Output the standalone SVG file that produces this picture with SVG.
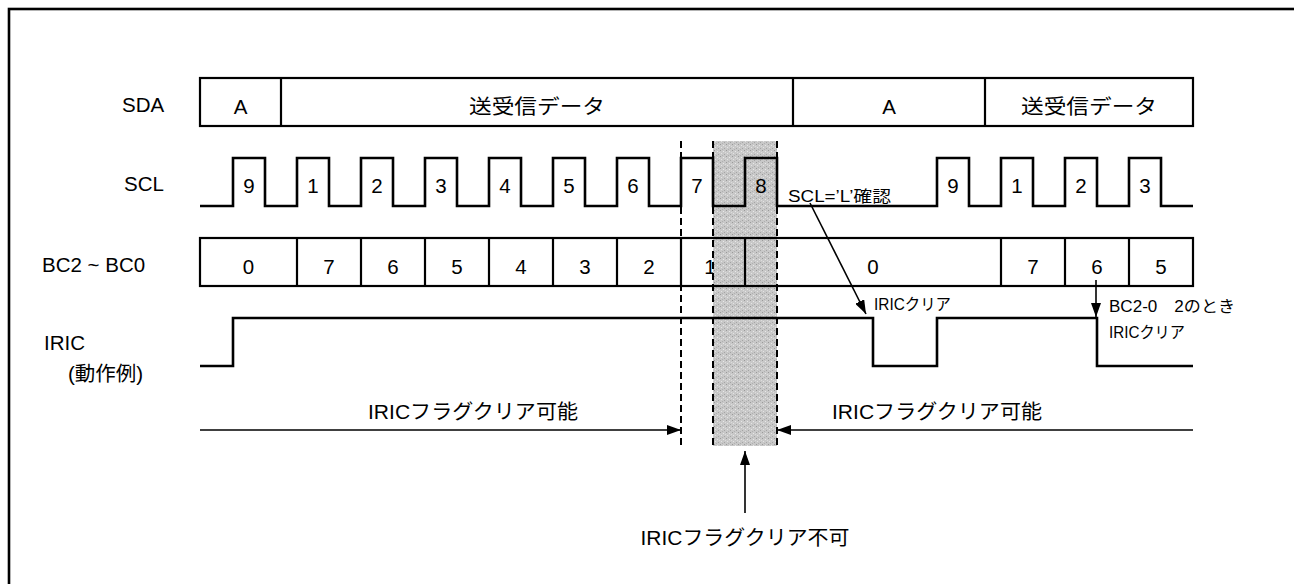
<svg xmlns="http://www.w3.org/2000/svg" width="1294" height="584" viewBox="0 0 1294 584">
<style>
text{font-family:"Liberation Sans","Noto Sans CJK JP",sans-serif;fill:#000}
.t{font-size:20.5px}
.c{text-anchor:middle}
.s{font-size:16px}
.box{fill:none;stroke:#000;stroke-width:2.2}
.wave{fill:none;stroke:#000;stroke-width:2.6}
.dash{fill:none;stroke:#000;stroke-width:2;stroke-dasharray:7 4}
.conn{fill:none;stroke:#000;stroke-width:1.6}
</style>
<defs>
<pattern id="noise" width="6" height="6" patternUnits="userSpaceOnUse">
<rect width="6" height="6" fill="#c8c8c8"/>
<rect x="0" y="0" width="1" height="1" fill="#9a9a9a"/>
<rect x="3" y="1" width="1" height="1" fill="#e8e8e8"/>
<rect x="1" y="3" width="1" height="1" fill="#e4e4e4"/>
<rect x="4" y="4" width="1" height="1" fill="#a4a4a4"/>
<rect x="2" y="5" width="1" height="1" fill="#b0b0b0"/>
<rect x="5" y="2" width="1" height="1" fill="#dcdcdc"/>
</pattern>
<marker id="ah" viewBox="0 0 14 10" refX="14" refY="5" markerWidth="14" markerHeight="10" markerUnits="userSpaceOnUse" orient="auto">
<path d="M0,0 L14,5 L0,10 Z" fill="#000"/>
</marker>
</defs>
<rect width="1294" height="584" fill="#fff"/>
<rect x="9" y="9" width="1300" height="600" fill="none" stroke="#000" stroke-width="2.6"/>

<g id="labels">
<text class="t" x="122" y="112">SDA</text>
<text class="t" x="124" y="191">SCL</text>
<text class="t" x="42" y="272">BC2 ~ BC0</text>
<text class="t" x="44" y="350">IRIC</text>
<text class="t" x="68" y="381">(動作例)</text>
</g>

<g id="bc-hidden-label">
<text class="t c" x="710" y="274">1</text>
</g>

<g id="blocked-zone">
<rect x="713" y="141" width="64" height="305" fill="url(#noise)"/>
</g>

<g id="sda">
<rect class="box" x="200" y="78" width="993" height="48"/>
<path class="box" d="M281,78 V126 M793,78 V126 M985,78 V126"/>
<text class="t c" x="240.5" y="114">A</text>
<text class="t c" x="537" y="114" textLength="136" lengthAdjust="spacingAndGlyphs">送受信データ</text>
<text class="t c" x="889" y="114">A</text>
<text class="t c" x="1089" y="114" textLength="136" lengthAdjust="spacingAndGlyphs">送受信データ</text>
</g>

<g id="scl">
<path class="wave" d="M200,206 H233 V158 H265 V206 H297 V158 H329 V206 H361 V158 H393 V206 H425 V158 H457 V206 H489 V158 H521 V206 H553 V158 H585 V206 H617 V158 H649 V206 H681 V158 H713 V206 H745 V158 H777 V206 H937 V158 H969 V206 H1001 V158 H1033 V206 H1065 V158 H1097 V206 H1129 V158 H1161 V206 H1193"/>
<text class="t c" x="249" y="193">9</text>
<text class="t c" x="313" y="193">1</text>
<text class="t c" x="377" y="193">2</text>
<text class="t c" x="441" y="193">3</text>
<text class="t c" x="505" y="193">4</text>
<text class="t c" x="569" y="193">5</text>
<text class="t c" x="633" y="193">6</text>
<text class="t c" x="697" y="193">7</text>
<text class="t c" x="761" y="193">8</text>
<text class="t c" x="953" y="193">9</text>
<text class="t c" x="1017" y="193">1</text>
<text class="t c" x="1081" y="193">2</text>
<text class="t c" x="1145" y="193">3</text>
</g>

<g id="bc">
<rect class="box" x="200" y="238" width="993" height="48"/>
<path class="box" d="M297,238 V286 M361,238 V286 M425,238 V286 M489,238 V286 M553,238 V286 M617,238 V286 M681,238 V286 M745,238 V286 M1001,238 V286 M1065,238 V286 M1129,238 V286"/>
<text class="t c" x="248.5" y="274">0</text>
<text class="t c" x="329" y="274">7</text>
<text class="t c" x="393" y="274">6</text>
<text class="t c" x="457" y="274">5</text>
<text class="t c" x="521" y="274">4</text>
<text class="t c" x="585" y="274">3</text>
<text class="t c" x="649" y="274">2</text>
<text class="t c" x="873" y="274">0</text>
<text class="t c" x="1033" y="274">7</text>
<text class="t c" x="1097" y="274">6</text>
<text class="t c" x="1161" y="274">5</text>
</g>

<g id="iric">
<path class="wave" d="M200,366 H233 V318 H873 V366 H937 V318 H1097 V366 H1193"/>
</g>

<g id="dashed-bounds">
<path class="dash" d="M681,141 V446 M713,141 V446 M777,141 V446"/>
</g>

<g id="annotations">
<text class="s" x="788" y="202" textLength="103" lengthAdjust="spacingAndGlyphs">SCL=’L’確認</text>
<text class="s" x="874" y="310" textLength="77" lengthAdjust="spacingAndGlyphs">IRICクリア</text>
<text class="s" x="1109" y="312" textLength="126" lengthAdjust="spacingAndGlyphs">BC2-0　2のとき</text>
<text class="s" x="1109" y="338" textLength="76" lengthAdjust="spacingAndGlyphs">IRICクリア</text>
<text class="t c" x="473" y="419" textLength="210" lengthAdjust="spacingAndGlyphs">IRICフラグクリア可能</text>
<text class="t c" x="937" y="419" textLength="210" lengthAdjust="spacingAndGlyphs">IRICフラグクリア可能</text>
<text class="t c" x="745" y="545" textLength="209" lengthAdjust="spacingAndGlyphs">IRICフラグクリア不可</text>
</g>

<g id="connectors">
<line class="conn" x1="810" y1="203" x2="866" y2="314" marker-end="url(#ah)"/>
<line class="conn" x1="1096" y1="280" x2="1096" y2="317" marker-end="url(#ah)"/>
<line class="conn" x1="200" y1="430" x2="681" y2="430" marker-end="url(#ah)"/>
<line class="conn" x1="1193" y1="430" x2="777" y2="430" marker-end="url(#ah)"/>
<line class="conn" x1="745" y1="513" x2="745" y2="451" marker-end="url(#ah)"/>
</g>
</svg>
